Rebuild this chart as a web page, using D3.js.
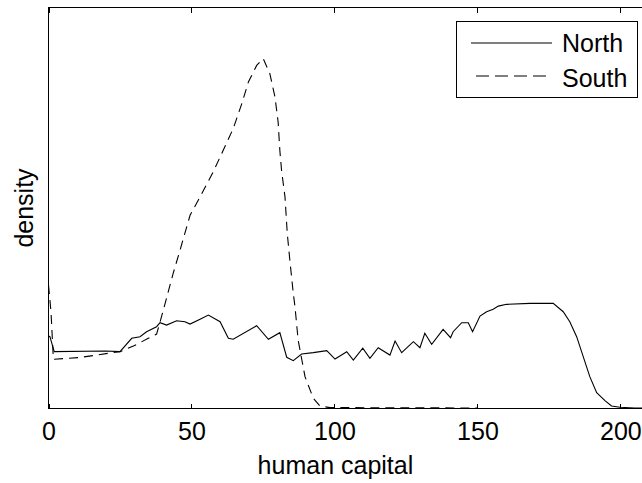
<!DOCTYPE html>
<html>
<head>
<meta charset="utf-8">
<script src="https://cdn.jsdelivr.net/npm/d3@7"></script>
<style>
body { margin: 0; background: #fff; }
svg { display: block; font-family: "Liberation Sans", Arial, sans-serif; }
</style>
</head>
<body>
<div id="chart"></div>
<script>
// density estimates
var northX = [0, 0.5, 2, 20, 25, 29.1, 32, 34.3, 37.8, 39, 41.3, 44.8, 47.7, 49.5, 53, 55.9, 60, 62.9, 64.6, 72.8, 76.9, 80.9, 83.3, 85.6, 88.5, 92.6, 97.3, 100.2, 104.3, 106.6, 109.9, 112.4, 115.3, 119.4, 121.2, 123.5, 127.6, 129.9, 131.6, 134, 138, 140.6, 141.5, 144.5, 146.8, 148.3, 150.9, 153.2, 155.5, 157.3, 160.2, 168.4, 176.5, 180, 182.3, 184.7, 187, 189.3, 191.7, 194.6, 196.9, 199.8, 205, 210];
var northY = [0.0036, 0.00357, 0.00282, 0.00285, 0.00282, 0.00349, 0.00357, 0.00382, 0.00407, 0.00427, 0.00415, 0.00437, 0.00432, 0.0042, 0.00444, 0.00465, 0.00432, 0.00349, 0.00344, 0.00412, 0.00344, 0.00377, 0.00254, 0.00237, 0.0027, 0.00277, 0.00287, 0.00245, 0.00282, 0.0024, 0.00299, 0.00249, 0.00302, 0.00265, 0.00335, 0.00277, 0.00332, 0.00302, 0.00374, 0.00319, 0.00394, 0.00352, 0.00382, 0.00427, 0.00427, 0.00382, 0.0046, 0.00482, 0.00494, 0.0051, 0.00519, 0.00524, 0.00524, 0.00482, 0.00432, 0.00357, 0.00257, 0.00157, 0.00077, 0.00037, 0.0001, 0.00004, 0, 0];

var southX = [0, 0.5, 0.9, 1.7, 5.1, 11, 16.9, 21.5, 25, 29.7, 34.9, 37.8, 39, 41.1, 43.6, 46, 49.5, 53, 57.6, 61.1, 64.6, 67.6, 69.9, 72.8, 75.1, 77.4, 79.2, 80.3, 80.9, 81.5, 82.7, 83.5, 84.4, 85.6, 86.2, 87.3, 89.7, 92.6, 94.9, 98.4, 150];
var southY = [0.00615, 0.0054, 0.00475, 0.00244, 0.00247, 0.00253, 0.00265, 0.00275, 0.00282, 0.0031, 0.00349, 0.0037, 0.0043, 0.0054, 0.00674, 0.0079, 0.00965, 0.01057, 0.01182, 0.0129, 0.01399, 0.01524, 0.01632, 0.01715, 0.01749, 0.01674, 0.01557, 0.01432, 0.0129, 0.0119, 0.01057, 0.00874, 0.0074, 0.00574, 0.00507, 0.0034, 0.00157, 0.00049, 0.0001, 0.00002, 0];

var xTicks = [0, 50, 100, 150, 200];
var seriesNames = ["North", "South"];

var width = 642, height = 483;
var plotL = 48.5, plotR = 649, plotT = 7.5, plotB = 408.5;

var svg = d3.select("#chart")
.append("svg")
.attr("width", width)
.attr("height", height);

var xScale = d3.scaleLinear()
.domain([0, 210])
.range([plotL, plotR]);

var yScale = d3.scaleLinear()
.domain([0, 0.02005])
.range([plotB - 0.5, plotT]);

// frame
svg.append("rect")
.attr("x", plotL).attr("y", plotT)
.attr("width", plotR - plotL).attr("height", plotB - plotT)
.attr("fill", "none").attr("stroke", "#000").attr("stroke-width", 1)
.attr("shape-rendering", "crispEdges");

var xAxis = svg.append("g")
.attr("transform", "translate(0," + plotB + ")")
.call(d3.axisBottom(xScale).tickValues(xTicks).tickSizeInner(-5).tickSizeOuter(0).tickPadding(14));
xAxis.select(".domain").remove();
xAxis.selectAll("line").attr("stroke", "#000").attr("shape-rendering", "crispEdges");
xAxis.selectAll("text").attr("font-size", 25).attr("fill", "#000")
.attr("font-family", "Liberation Sans, Arial, sans-serif");

var xTop = svg.append("g")
.attr("transform", "translate(0," + plotT + ")")
.call(d3.axisTop(xScale).tickValues(xTicks).tickSizeInner(-5).tickSizeOuter(0).tickFormat(""));
xTop.select(".domain").remove();
xTop.selectAll("line").attr("stroke", "#000").attr("shape-rendering", "crispEdges");

var line = d3.line()
.x(function (d) { return xScale(d[0]); })
.y(function (d) { return yScale(d[1]); });

var north = d3.zip(northX, northY);
var south = d3.zip(southX, southY);

svg.append("path")
.datum(north)
.attr("d", line)
.attr("fill", "none")
.attr("stroke", "#000")
.attr("stroke-width", 1.1);

svg.append("path")
.datum(south)
.attr("d", line)
.attr("fill", "none")
.attr("stroke", "#000")
.attr("stroke-width", 1.1)
.attr("stroke-dasharray", "9,6");

// axis titles
svg.append("text")
.attr("x", xScale(100) + 1)
.attr("y", 474)
.attr("text-anchor", "middle")
.attr("font-size", 25)
.text("human capital");

svg.append("text")
.attr("transform", "translate(33," + ((plotT + plotB) / 2) + ") rotate(-90)")
.attr("text-anchor", "middle")
.attr("font-size", 25)
.text("density");

// legend
var lg = svg.append("g");
lg.append("rect")
.attr("x", 456.5).attr("y", 21.5)
.attr("width", 181).attr("height", 76)
.attr("fill", "#fff").attr("stroke", "#000")
.attr("shape-rendering", "crispEdges");

lg.selectAll("line.key")
.data(seriesNames)
.enter()
.append("line")
.attr("x1", 471).attr("x2", 552)
.attr("y1", function (d, i) { return 43 + i * 33; })
.attr("y2", function (d, i) { return 43 + i * 33; })
.attr("stroke", "#000")
.attr("stroke-width", 1.1)
.attr("stroke-dasharray", function (d, i) { return i == 1 ? "13,6" : null; })
.attr("stroke-dashoffset", function (d, i) { return i == 1 ? -5 : null; });

lg.selectAll("text")
.data(seriesNames)
.enter()
.append("text")
.attr("x", 562)
.attr("y", function (d, i) { return 52 + i * 35; })
.attr("font-size", 25)
.text(function (d) { return d; });
</script>
</body>
</html>
